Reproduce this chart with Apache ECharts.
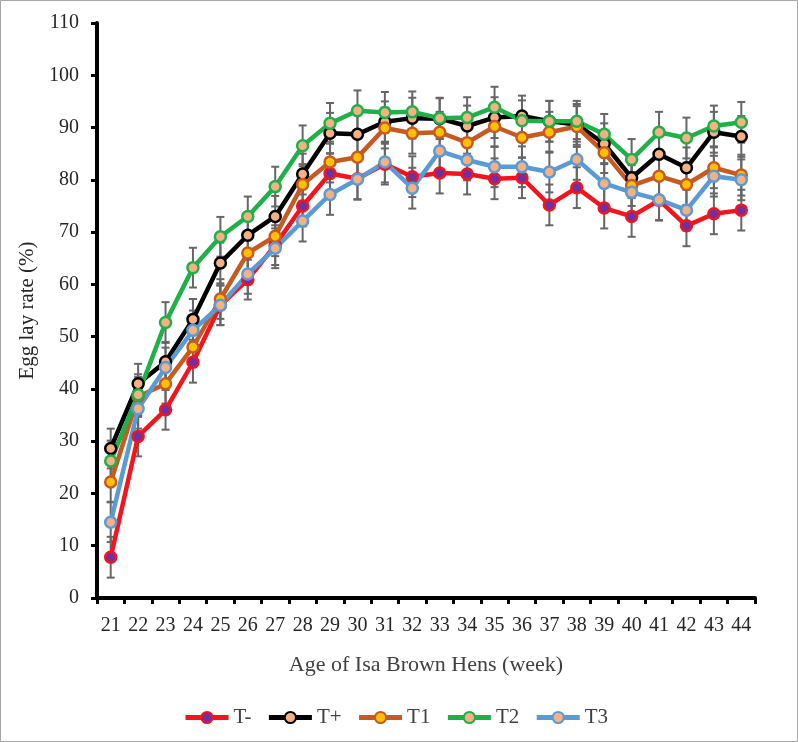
<!DOCTYPE html>
<html>
<head>
<meta charset="utf-8">
<script src="https://cdn.jsdelivr.net/npm/echarts@6/dist/echarts.min.js"></script>
<style>
html, body { margin: 0; padding: 0; background: #fff; }
#main { width: 798px; height: 742px; }
</style>
</head>
<body>
<div id="main"></div>
<script>
// weeks of age
const weeks = ['21', '22', '23', '24', '25', '26', '27', '28', '29', '30', '31', '32',
  '33', '34', '35', '36', '37', '38', '39', '40', '41', '42', '43', '44'];
const yTicks = [0, 10, 20, 30, 40, 50, 60, 70, 80, 90, 100, 110];

// egg lay rate (%) per treatment
const tMinus = [7.8, 30.9, 36.0, 45.1, 56.0, 60.9, 67.5, 75.0, 81.2, 80.2, 83.0, 80.6,
  81.3, 81.1, 80.2, 80.4, 75.2, 78.5, 74.6, 73.0, 76.1, 71.2, 73.5, 74.2];
const tPlus = [28.6, 41.0, 45.2, 53.3, 64.1, 69.4, 73.0, 81.1, 88.9, 88.7, 91.1, 91.8,
  91.7, 90.3, 91.9, 92.2, 91.2, 90.6, 86.9, 80.4, 84.9, 82.3, 89.1, 88.3];
const t1 = [22.2, 38.5, 41.0, 48.0, 57.2, 66.0, 69.2, 79.1, 83.4, 84.3, 89.9, 88.9,
  89.1, 87.1, 90.2, 88.1, 89.1, 90.2, 85.2, 78.9, 80.7, 79.1, 82.3, 80.9];
const t2 = [26.2, 38.9, 52.7, 63.2, 69.1, 73.0, 78.7, 86.5, 90.8, 93.2, 92.9, 93.0,
  91.8, 91.9, 93.9, 91.3, 91.2, 91.2, 88.7, 83.9, 89.1, 88.0, 90.3, 91.0];
const t3 = [14.5, 36.2, 44.1, 51.2, 56.0, 62.0, 66.9, 72.1, 77.2, 80.1, 83.4, 78.4,
  85.5, 83.8, 82.5, 82.5, 81.5, 83.9, 79.3, 77.6, 76.2, 74.2, 80.7, 80.0];

// error bar half-widths
const errMinus = [3.9, 3.8, 3.8, 3.9, 3.8, 3.8, 3.8, 3.9, 3.9, 3.9, 3.9, 3.9,
  3.9, 3.9, 3.9, 3.9, 3.9, 3.9, 3.9, 3.9, 3.9, 3.9, 3.9, 3.9];
const errPlus = [3.8, 3.8, 3.8, 3.9, 3.9, 3.9, 3.9, 3.9, 3.9, 3.9, 3.9, 3.9,
  3.9, 3.9, 3.9, 3.9, 3.9, 3.9, 3.9, 3.9, 3.9, 3.9, 3.9, 3.9];
const err1 = [3.8, 3.8, 3.8, 3.8, 3.8, 3.8, 3.8, 3.9, 3.9, 3.9, 3.9, 3.9,
  3.9, 3.9, 3.9, 3.9, 3.9, 3.9, 3.9, 3.9, 3.9, 3.9, 3.9, 3.9];
const err2 = [3.9, 3.9, 3.9, 3.8, 3.8, 3.8, 3.8, 3.9, 3.9, 3.9, 3.9, 3.9,
  3.9, 3.9, 3.9, 3.9, 3.9, 3.9, 3.9, 3.9, 3.9, 3.9, 3.9, 3.9];
const err3 = [3.8, 3.8, 3.8, 3.8, 3.8, 3.8, 3.8, 3.9, 3.9, 3.9, 3.9, 3.9,
  3.9, 3.9, 3.9, 3.9, 3.9, 3.9, 3.9, 3.9, 3.9, 3.9, 3.9, 3.9];

const groups = [
  { name: 'T-', data: tMinus, err: errMinus, line: '#f5141e', fill: '#7030a0' },
  { name: 'T+', data: tPlus, err: errPlus, line: '#000000', fill: '#f4b183' },
  { name: 'T1', data: t1, err: err1, line: '#c55a22', fill: '#ffc000' },
  { name: 'T2', data: t2, err: err2, line: '#1fb04a', fill: '#f4b183' },
  { name: 'T3', data: t3, err: err3, line: '#5b9bd5', fill: '#f4b183' }
];

const fontFam = '"Liberation Serif", "DejaVu Serif", serif';
const chart = echarts.init(document.getElementById('main'));

// error bars drawn as custom series
function errRender(params, api) {
  const x = api.value(0);
  const lo = api.coord([x, api.value(1)]);
  const hi = api.coord([x, api.value(2)]);
  const w = 4;
  const st = { stroke: '#666666', lineWidth: 2 };
  return {
    type: 'group',
    children: [
      { type: 'line', shape: { x1: lo[0], y1: lo[1], x2: hi[0], y2: hi[1] }, style: st },
      { type: 'line', shape: { x1: lo[0] - w, y1: lo[1], x2: lo[0] + w, y2: lo[1] }, style: st },
      { type: 'line', shape: { x1: hi[0] - w, y1: hi[1], x2: hi[0] + w, y2: hi[1] }, style: st }
    ]
  };
}

const series = [];
groups.forEach(g => {
  series.push({
    name: 'err ' + g.name,
    type: 'custom',
    renderItem: errRender,
    encode: { x: 0, y: [1, 2] },
    data: g.data.map((v, i) => [i, v - g.err[i], v + g.err[i]]),
    z: 1,
    silent: true
  });
});
groups.forEach(g => {
  series.push({
    name: g.name,
    type: 'line',
    data: g.data,
    symbol: 'circle',
    symbolSize: 11,
    lineStyle: { color: g.line, width: 4.5 },
    itemStyle: { color: g.fill, borderColor: g.line, borderWidth: 2.5 },
    z: 3
  });
});

const option = {
  animation: false,
  backgroundColor: '#fff',
  graphic: [{
    type: 'rect',
    shape: { x: 0.5, y: 0.5, width: 797, height: 741 },
    style: { fill: 'none', stroke: '#a6a6a6', lineWidth: 1 },
    silent: true
  }],
  grid: { left: 97, right: 43, top: 23, bottom: 144 },
  legend: {
    data: groups.map(g => g.name),
    top: 702,
    left: 178,
    itemWidth: 43,
    itemHeight: 14,
    itemGap: 15,
    lineStyle: { width: 5 },
    textStyle: { fontFamily: fontFam, fontSize: 21, color: '#404040' }
  },
  xAxis: {
    type: 'category',
    data: weeks,
    boundaryGap: true,
    name: 'Age of Isa Brown Hens (week)',
    nameLocation: 'middle',
    nameGap: 56,
    nameTextStyle: { fontFamily: fontFam, fontSize: 22, color: '#404040' },
    axisLine: { lineStyle: { color: '#000', width: 4 } },
    axisTick: { show: true, length: 6, lineStyle: { color: '#000', width: 3 } },
    axisLabel: { fontFamily: fontFam, fontSize: 20, color: '#262626', margin: 18 },
    splitLine: { show: false }
  },
  yAxis: {
    type: 'value',
    min: yTicks[0],
    max: yTicks[yTicks.length - 1],
    interval: 10,
    name: 'Egg lay rate (%)',
    nameLocation: 'middle',
    nameGap: 58,
    nameTextStyle: { fontFamily: fontFam, fontSize: 21, color: '#262626' },
    axisLine: { show: true, lineStyle: { color: '#000', width: 4 } },
    axisTick: { show: true, length: 6, lineStyle: { color: '#000', width: 3 } },
    axisLabel: { fontFamily: fontFam, fontSize: 20, color: '#262626', margin: 18 },
    splitLine: { show: false }
  },
  series: series
};
chart.setOption(option);
</script>
</body>
</html>
